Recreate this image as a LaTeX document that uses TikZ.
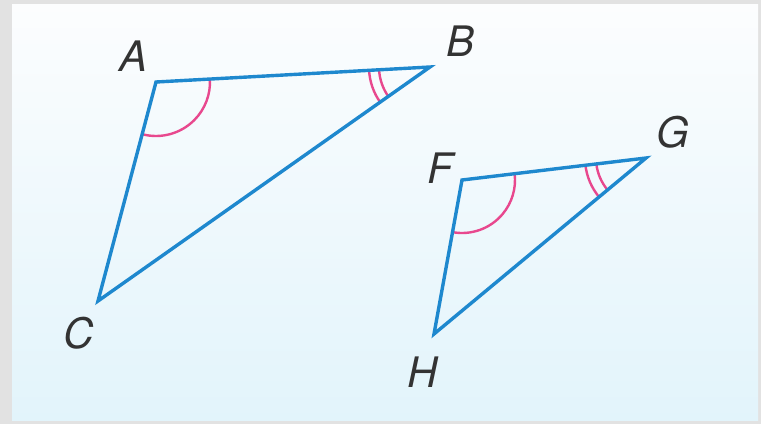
\documentclass[tikz,border=0pt]{standalone}
\usepackage{fontspec}
\usetikzlibrary{angles}
\newfontfamily\vertexfont{TeX Gyre Heros}
\definecolor{edgeblue}{RGB}{30,136,206}
\definecolor{arcpink}{RGB}{232,72,142}
\definecolor{framegray}{RGB}{226,226,226}
\definecolor{paneltop}{RGB}{252,253,254}
\definecolor{panelbottom}{RGB}{226,244,251}
\tikzset{
  side/.style={draw=edgeblue,line width=3.4pt},
  anglemark/.style={draw=arcpink,line width=2.4pt},
  vlabel/.style={font=\vertexfont\itshape\fontsize{42}{42}\selectfont,text=black!80,inner sep=0pt}
}
\begin{document}
\begin{tikzpicture}[x=1pt,y=-1pt]
  % frame and panel
  \fill[framegray] (0,0) rectangle (761,424);
  \shade[top color=paneltop,bottom color=panelbottom] (12,4) rectangle (758,420);
  \useasboundingbox (0,0) rectangle (761,424);
  % vertices
  \coordinate (A) at (156,82);
  \coordinate (B) at (430,67);
  \coordinate (C) at (98,301);
  \coordinate (F) at (462,180);
  \coordinate (G) at (646,158);
  \coordinate (H) at (434,334);
  % angle marks
  \pic[anglemark,angle radius=54pt] {angle=C--A--B};
  \pic[anglemark,angle radius=51pt] {angle=A--B--C};
  \pic[anglemark,angle radius=61pt] {angle=A--B--C};
  \pic[anglemark,angle radius=53pt] {angle=H--F--G};
  \pic[anglemark,angle radius=50pt] {angle=F--G--H};
  \pic[anglemark,angle radius=61pt] {angle=F--G--H};
  % triangles
  \draw[side] (A) -- (B) -- (C) -- cycle;
  \draw[side] (F) -- (G) -- (H) -- cycle;
  % labels
  \foreach \v/\p in {A/{134,56},B/{461,41},C/{79,333},F/{440,168},G/{673,132},H/{423,372}}
    \node[vlabel] (l\v) at (\p) {\v};
\end{tikzpicture}
\end{document}
